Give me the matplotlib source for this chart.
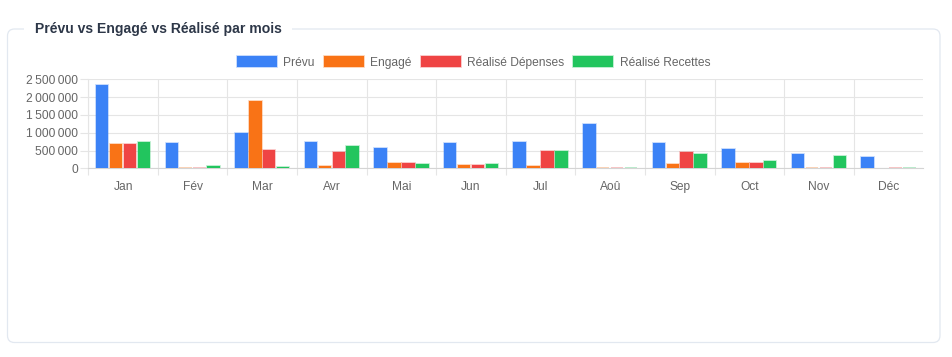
import numpy as np
import matplotlib
matplotlib.use("Agg")
import matplotlib.pyplot as plt
from matplotlib.patches import FancyBboxPatch, Rectangle
from matplotlib.ticker import FuncFormatter

plt.rcParams['font.family'] = ['Liberation Sans', 'DejaVu Sans']

months = ["Jan", "Fév", "Mar", "Avr", "Mai", "Jun", "Jul", "Aoû", "Sep", "Oct", "Nov", "Déc"]
prevu = [2330000, 700000, 1000000, 740000, 580000, 700000, 740000, 1250000, 710000, 550000, 390000, 320000]
engage = [670000, 0, 1880000, 60000, 150000, 80000, 60000, 0, 120000, 150000, 0, np.nan]
realise_dep = [670000, 0, 520000, 450000, 150000, 80000, 490000, 0, 470000, 160000, 0, 0]
realise_rec = [730000, 60000, 30000, 630000, 110000, 120000, 490000, 0, 400000, 200000, 350000, 0]

series = [
    ("Prévu", prevu, "#3b82f6"),
    ("Engagé", engage, "#f97316"),
    ("Réalisé Dépenses", realise_dep, "#ef4444"),
    ("Réalisé Recettes", realise_rec, "#22c55e"),
]

W, H = 953, 357
fig = plt.figure(figsize=(W / 100, H / 100), dpi=100)
fig.patch.set_facecolor("white")

# card frame, drawn in pixel coordinates
bg = fig.add_axes([0, 0, 1, 1], zorder=0)
bg.set_xlim(0, W)
bg.set_ylim(H, 0)
bg.axis("off")
bg.add_patch(FancyBboxPatch((7.5, 29), 932.5, 313.5, boxstyle="round,pad=0,rounding_size=7",
                            fc="white", ec="#e2e8f0", lw=0.9))
bg.add_patch(Rectangle((24, 20), 268, 18, fc="white", ec="none"))
bg.text(35, 28.5, "Prévu vs Engagé vs Réalisé par mois", fontsize=10.1, fontweight="bold",
        color="#2d3748", va="center", ha="left")

# chart area
px2 = lambda x0, y0, x1, y1: [x0 / W, 1 - y1 / H, (x1 - x0) / W, (y1 - y0) / H]
ax = fig.add_axes(px2(88.3, 79.3, 923.3, 168.3), zorder=1)
ax.set_facecolor("none")

x = np.arange(len(months))
slot = 0.8 / 4
handles = []
for i, (name, vals, col) in enumerate(series):
    rgba = matplotlib.colors.to_rgba(col)
    edge = (rgba[0], rgba[1], rgba[2], 0.35)
    b = ax.bar(x + (i - 1.5) * slot, vals, width=slot * 0.9, color=col, edgecolor=edge,
               linewidth=1.2, label=name, zorder=3)
    handles.append(b)

ax.set_xlim(-0.5, len(months) - 0.5)
ax.set_ylim(0, 2500000)
ax.set_yticks(np.arange(0, 2500001, 500000))
ax.yaxis.set_major_formatter(FuncFormatter(lambda v, p: f"{int(v):,}".replace(",", "\u202f")))

ax.set_xticks(np.arange(-0.5, len(months) - 1, 1.0))
ax.set_xticklabels([])
ax.set_xticks(x, minor=True)
ax.set_xticklabels(months, minor=True)

grid_col = "#e5e5e5"
ax.grid(True, which="major", color=grid_col, lw=0.8, zorder=0)
ax.tick_params(axis="x", which="major", length=5.2, color=grid_col, width=0.8)
ax.tick_params(axis="x", which="minor", length=0, pad=9.5, labelsize=8.64, labelcolor="#666666")
ax.tick_params(axis="y", length=5.5, color=grid_col, width=0.8, pad=2, labelsize=8.64,
               labelcolor="#666666")
for s in ["top", "right"]:
    ax.spines[s].set_visible(False)
ax.spines["left"].set_color(grid_col)
ax.spines["left"].set_linewidth(0.8)
ax.spines["bottom"].set_color("#d4d4d4")
ax.spines["bottom"].set_linewidth(0.8)

leg = fig.legend(handles=handles, loc="center", bbox_to_anchor=(473.5 / W, 1 - 62.5 / H), ncol=4,
                 frameon=False, fontsize=8.64, handlelength=3.33, handleheight=1.0,
                 handletextpad=0.55, columnspacing=0.75, borderpad=0)
for t in leg.get_texts():
    t.set_color("#666666")

fig.savefig("out.png", dpi=100, facecolor="white")
